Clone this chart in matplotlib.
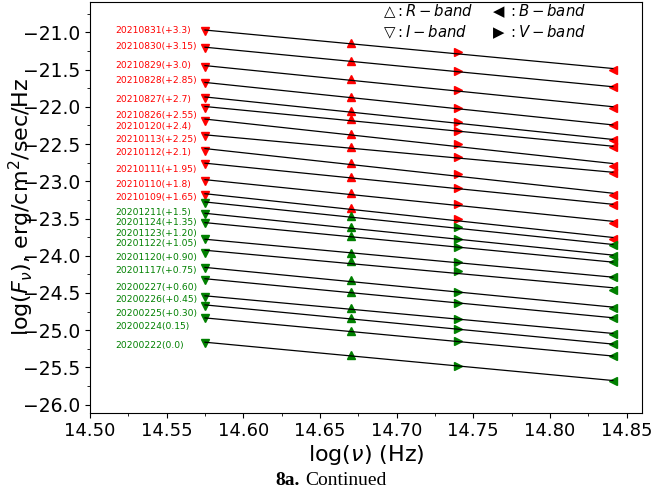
import numpy as np
import matplotlib
matplotlib.use('Agg')
import matplotlib.pyplot as plt
from matplotlib.ticker import MultipleLocator

# log(nu) of the I, R, V, B bands
band_x = [14.575, 14.670, 14.740, 14.841]

red_dates = ["20210831(+3.3)", "20210830(+3.15)", "20210829(+3.0)",
             "20210828(+2.85)", "20210827(+2.7)", "20210826(+2.55)",
             "20210120(+2.4)", "20210113(+2.25)", "20210112(+2.1)",
             "20210111(+1.95)", "20210110(+1.8)", "20210109(+1.65)"]
red_I = [-20.98, -21.21, -21.46, -21.68, -21.88, -22.01,
         -22.19, -22.39, -22.59, -22.77, -23.00, -23.19]
red_R = [-21.15, -21.38, -21.63, -21.87, -22.06, -22.17,
         -22.36, -22.54, -22.75, -22.94, -23.16, -23.36]
red_V = [-21.27, -21.52, -21.78, -22.02, -22.21, -22.32,
         -22.50, -22.68, -22.90, -23.09, -23.30, -23.50]
red_B = [-21.50, -21.74, -22.01, -22.25, -22.45, -22.54,
         -22.79, -22.89, -23.19, -23.32, -23.56, -23.78]
red_label_y = [-20.97, -21.19, -21.44, -21.65, -21.90, -22.12,
               -22.27, -22.44, -22.62, -22.84, -23.05, -23.22]

green_dates = ["20201211(+1.5)", "20201124(+1.35)", "20201123(+1.20)",
               "20201122(+1.05)", "20201120(+0.90)", "20201117(+0.75)",
               "20200227(+0.60)", "20200226(+0.45)", "20200225(+0.30)",
               "20200224(0.15)", "20200222(0.0)"]
green_I = [-23.29, -23.44, -23.56, -23.78, -23.96, -24.17,
           -24.32, -24.55, -24.67, -24.84, -25.17]
green_R = [-23.47, -23.62, -23.74, -23.96, -24.07, -24.33,
           -24.48, -24.70, -24.83, -25.01, -25.33]
green_V = [-23.62, -23.77, -23.88, -24.09, -24.21, -24.48,
           -24.63, -24.85, -24.99, -25.15, -25.48]
green_B = [-23.86, -24.00, -24.09, -24.29, -24.46, -24.70,
           -24.84, -25.05, -25.19, -25.35, -25.68]
green_label_y = [-23.42, -23.56, -23.70, -23.84, -24.03, -24.20,
                 -24.42, -24.59, -24.77, -24.95, -25.20]

fig = plt.figure(figsize=(6.54, 4.94), dpi=100)
ax = fig.add_axes([0.1376, 0.1646, 0.844, 0.832])


def draw_group(I, R, V, B, dates, label_y, color):
    for i in range(len(I)):
        ys = [I[i], R[i], V[i], B[i]]
        ax.plot(band_x[0], I[i], 'v', color=color, ms=6)
        ax.plot(band_x[1], R[i], '^', color=color, ms=6)
        ax.plot(band_x[2], V[i], '>', color=color, ms=6)
        ax.plot(band_x[3], B[i], '<', color=color, ms=6)
        p = np.polyfit(band_x, ys, 1)
        xl = np.array([band_x[0], band_x[3]])
        ax.plot(xl, np.polyval(p, xl), '-', color='black', lw=0.9, zorder=3)
        ax.text(14.5168, label_y[i], dates[i], color=color, fontsize=6.6,
                ha='left', va='center')


draw_group(red_I, red_R, red_V, red_B, red_dates, red_label_y, 'red')
draw_group(green_I, green_R, green_V, green_B, green_dates, green_label_y, 'green')

ax.text(0.531, 0.977, r'$\bigtriangleup: R-band$', transform=ax.transAxes,
        fontsize=10.7, va='center', ha='left')
ax.text(0.725, 0.977, r'$\blacktriangleleft: B-band$', transform=ax.transAxes,
        fontsize=10.7, va='center', ha='left')
ax.text(0.531, 0.926, r'$\bigtriangledown: I-band$', transform=ax.transAxes,
        fontsize=10.7, va='center', ha='left')
ax.text(0.725, 0.926, r'$\blacktriangleright: V-band$', transform=ax.transAxes,
        fontsize=10.7, va='center', ha='left')

ax.set_xlim(14.50, 14.86)
ax.set_ylim(-26.107, -20.589)
ax.xaxis.set_major_locator(MultipleLocator(0.05))
ax.xaxis.set_minor_locator(MultipleLocator(0.025))
ax.yaxis.set_major_locator(MultipleLocator(0.5))
ax.yaxis.set_minor_locator(MultipleLocator(0.25))
ax.tick_params(axis='x', labelsize=13)
ax.tick_params(axis='y', labelsize=13.5)

ax.set_xlabel(r'log($\nu$) (Hz)', fontsize=16, labelpad=2)
ax.set_ylabel(r'log($F_\nu$), erg/cm$^2$/sec/Hz', fontsize=16)
ax.yaxis.set_label_coords(-0.097, 0.5)

fig.text(0.458, 0.028, '8a.', fontsize=14, fontweight='bold',
         family='Liberation Serif', ha='right', va='center')
fig.text(0.466, 0.028, 'Continued', fontsize=14,
         family='Liberation Serif', ha='left', va='center')

fig.savefig('out.png', dpi=100)
